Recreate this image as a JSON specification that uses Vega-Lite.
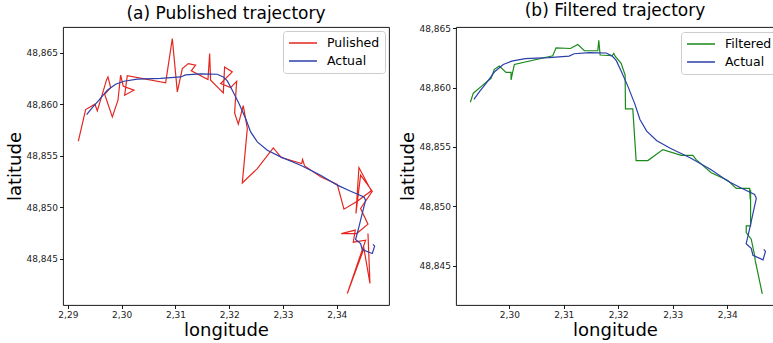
{
  "$schema": "https://vega.github.io/schema/vega-lite/v6.json",
  "background": "white",
  "padding": {"left": 5, "top": 1, "right": 0, "bottom": 0},
  "spacing": 8,
  "config": {
    "font": "DejaVu Sans",
    "view": {"stroke": "black", "strokeWidth": 0.9},
    "title": {"fontSize": 17, "fontWeight": "normal", "font": "DejaVu Sans", "color": "black", "offset": 4},
    "axis": {
      "domain": false,
      "grid": false,
      "ticks": true,
      "tickColor": "black",
      "tickSize": 3.5,
      "tickWidth": 0.9,
      "labelFont": "DejaVu Sans",
      "labelFontSize": 9,
      "labelColor": "#222222",
      "labelPadding": 2,
      "titleFont": "DejaVu Sans",
      "titleFontSize": 18,
      "titleFontWeight": "normal",
      "titleColor": "black",
      "titlePadding": 2
    },
    "legend": {
      "orient": "none",
      "title": null,
      "symbolType": "stroke",
      "symbolSize": 784,
      "symbolStrokeWidth": 1.6,
      "labelFont": "DejaVu Sans",
      "labelFontSize": 12.5,
      "labelColor": "black",
      "labelOffset": 9,
      "strokeColor": "#cccccc",
      "fillColor": "white",
      "cornerRadius": 3,
      "padding": 5,
      "rowPadding": 4,
      "clipHeight": 14
    }
  },
  "datasets": {
    "actual": [
      {"series": "Actual", "i": 0, "lon": 2.29349, "lat": 48.85900},
      {"series": "Actual", "i": 1, "lon": 2.29455, "lat": 48.85968},
      {"series": "Actual", "i": 2, "lon": 2.29579, "lat": 48.86039},
      {"series": "Actual", "i": 3, "lon": 2.29734, "lat": 48.86136},
      {"series": "Actual", "i": 4, "lon": 2.29888, "lat": 48.86194},
      {"series": "Actual", "i": 5, "lon": 2.30043, "lat": 48.86223},
      {"series": "Actual", "i": 6, "lon": 2.30291, "lat": 48.86243},
      {"series": "Actual", "i": 7, "lon": 2.30725, "lat": 48.86252},
      {"series": "Actual", "i": 8, "lon": 2.31097, "lat": 48.86265},
      {"series": "Actual", "i": 9, "lon": 2.31190, "lat": 48.86285},
      {"series": "Actual", "i": 10, "lon": 2.31468, "lat": 48.86294},
      {"series": "Actual", "i": 11, "lon": 2.31778, "lat": 48.86291},
      {"series": "Actual", "i": 12, "lon": 2.31890, "lat": 48.86265},
      {"series": "Actual", "i": 13, "lon": 2.31964, "lat": 48.86227},
      {"series": "Actual", "i": 14, "lon": 2.32057, "lat": 48.86136},
      {"series": "Actual", "i": 15, "lon": 2.32181, "lat": 48.86006},
      {"series": "Actual", "i": 16, "lon": 2.32305, "lat": 48.85861},
      {"series": "Actual", "i": 17, "lon": 2.32398, "lat": 48.85731},
      {"series": "Actual", "i": 18, "lon": 2.32522, "lat": 48.85634},
      {"series": "Actual", "i": 19, "lon": 2.32708, "lat": 48.85553},
      {"series": "Actual", "i": 20, "lon": 2.32955, "lat": 48.85489},
      {"series": "Actual", "i": 21, "lon": 2.33327, "lat": 48.85408},
      {"series": "Actual", "i": 22, "lon": 2.33699, "lat": 48.85311},
      {"series": "Actual", "i": 23, "lon": 2.34009, "lat": 48.85214},
      {"series": "Actual", "i": 24, "lon": 2.34257, "lat": 48.85155},
      {"series": "Actual", "i": 25, "lon": 2.34504, "lat": 48.85100},
      {"series": "Actual", "i": 26, "lon": 2.34535, "lat": 48.85068},
      {"series": "Actual", "i": 27, "lon": 2.34473, "lat": 48.84939},
      {"series": "Actual", "i": 28, "lon": 2.34411, "lat": 48.84809},
      {"series": "Actual", "i": 29, "lon": 2.34349, "lat": 48.84686},
      {"series": "Actual", "i": 30, "lon": 2.34442, "lat": 48.84647},
      {"series": "Actual", "i": 31, "lon": 2.34473, "lat": 48.84589},
      {"series": "Actual", "i": 32, "lon": 2.34659, "lat": 48.84550},
      {"series": "Actual", "i": 33, "lon": 2.34703, "lat": 48.84621},
      {"series": "Actual", "i": 34, "lon": 2.34672, "lat": 48.84638}
    ],
    "published": [
      {"series": "Pulished", "i": 0, "lon": 2.29195, "lat": 48.85641},
      {"series": "Pulished", "i": 1, "lon": 2.29331, "lat": 48.85948},
      {"series": "Pulished", "i": 2, "lon": 2.29504, "lat": 48.86000},
      {"series": "Pulished", "i": 3, "lon": 2.29548, "lat": 48.85935},
      {"series": "Pulished", "i": 4, "lon": 2.29721, "lat": 48.86239},
      {"series": "Pulished", "i": 5, "lon": 2.29746, "lat": 48.86265},
      {"series": "Pulished", "i": 6, "lon": 2.29796, "lat": 48.86162},
      {"series": "Pulished", "i": 7, "lon": 2.29684, "lat": 48.86097},
      {"series": "Pulished", "i": 8, "lon": 2.29827, "lat": 48.85877},
      {"series": "Pulished", "i": 9, "lon": 2.29932, "lat": 48.86039},
      {"series": "Pulished", "i": 10, "lon": 2.29981, "lat": 48.86282},
      {"series": "Pulished", "i": 11, "lon": 2.30031, "lat": 48.86175},
      {"series": "Pulished", "i": 12, "lon": 2.30229, "lat": 48.86136},
      {"series": "Pulished", "i": 13, "lon": 2.30056, "lat": 48.86087},
      {"series": "Pulished", "i": 14, "lon": 2.30105, "lat": 48.86278},
      {"series": "Pulished", "i": 15, "lon": 2.30818, "lat": 48.86207},
      {"series": "Pulished", "i": 16, "lon": 2.30942, "lat": 48.86638},
      {"series": "Pulished", "i": 17, "lon": 2.31035, "lat": 48.86120},
      {"series": "Pulished", "i": 18, "lon": 2.31128, "lat": 48.86346},
      {"series": "Pulished", "i": 19, "lon": 2.31239, "lat": 48.86395},
      {"series": "Pulished", "i": 20, "lon": 2.31375, "lat": 48.86379},
      {"series": "Pulished", "i": 21, "lon": 2.31295, "lat": 48.86324},
      {"series": "Pulished", "i": 22, "lon": 2.31605, "lat": 48.86239},
      {"series": "Pulished", "i": 23, "lon": 2.31636, "lat": 48.86492},
      {"series": "Pulished", "i": 24, "lon": 2.31654, "lat": 48.86233},
      {"series": "Pulished", "i": 25, "lon": 2.31890, "lat": 48.86110},
      {"series": "Pulished", "i": 26, "lon": 2.31914, "lat": 48.86362},
      {"series": "Pulished", "i": 27, "lon": 2.32057, "lat": 48.86314},
      {"series": "Pulished", "i": 28, "lon": 2.31840, "lat": 48.86201},
      {"series": "Pulished", "i": 29, "lon": 2.32026, "lat": 48.86162},
      {"series": "Pulished", "i": 30, "lon": 2.32138, "lat": 48.86223},
      {"series": "Pulished", "i": 31, "lon": 2.32100, "lat": 48.85916},
      {"series": "Pulished", "i": 32, "lon": 2.32169, "lat": 48.85806},
      {"series": "Pulished", "i": 33, "lon": 2.32261, "lat": 48.85987},
      {"series": "Pulished", "i": 34, "lon": 2.32336, "lat": 48.85764},
      {"series": "Pulished", "i": 35, "lon": 2.32243, "lat": 48.85236},
      {"series": "Pulished", "i": 36, "lon": 2.32522, "lat": 48.85375},
      {"series": "Pulished", "i": 37, "lon": 2.32819, "lat": 48.85576},
      {"series": "Pulished", "i": 38, "lon": 2.32968, "lat": 48.85482},
      {"series": "Pulished", "i": 39, "lon": 2.33346, "lat": 48.85424},
      {"series": "Pulished", "i": 40, "lon": 2.33364, "lat": 48.85463},
      {"series": "Pulished", "i": 41, "lon": 2.33401, "lat": 48.85401},
      {"series": "Pulished", "i": 42, "lon": 2.33699, "lat": 48.85295},
      {"series": "Pulished", "i": 43, "lon": 2.34009, "lat": 48.85220},
      {"series": "Pulished", "i": 44, "lon": 2.34133, "lat": 48.84981},
      {"series": "Pulished", "i": 45, "lon": 2.34380, "lat": 48.85058},
      {"series": "Pulished", "i": 46, "lon": 2.34641, "lat": 48.85159},
      {"series": "Pulished", "i": 47, "lon": 2.34411, "lat": 48.85385},
      {"series": "Pulished", "i": 48, "lon": 2.34356, "lat": 48.84939},
      {"series": "Pulished", "i": 49, "lon": 2.34442, "lat": 48.85311},
      {"series": "Pulished", "i": 50, "lon": 2.34659, "lat": 48.85155},
      {"series": "Pulished", "i": 51, "lon": 2.34442, "lat": 48.84987},
      {"series": "Pulished", "i": 52, "lon": 2.34579, "lat": 48.84835},
      {"series": "Pulished", "i": 53, "lon": 2.34368, "lat": 48.84744},
      {"series": "Pulished", "i": 54, "lon": 2.34083, "lat": 48.84744},
      {"series": "Pulished", "i": 55, "lon": 2.34343, "lat": 48.84777},
      {"series": "Pulished", "i": 56, "lon": 2.34306, "lat": 48.84660},
      {"series": "Pulished", "i": 57, "lon": 2.34535, "lat": 48.84680},
      {"series": "Pulished", "i": 58, "lon": 2.34195, "lat": 48.84162},
      {"series": "Pulished", "i": 59, "lon": 2.34504, "lat": 48.84599},
      {"series": "Pulished", "i": 60, "lon": 2.34616, "lat": 48.84259},
      {"series": "Pulished", "i": 61, "lon": 2.34579, "lat": 48.84744}
    ],
    "filtered": [
      {"series": "Filtered", "i": 0, "lon": 2.29283, "lat": 48.85877},
      {"series": "Filtered", "i": 1, "lon": 2.29338, "lat": 48.85953},
      {"series": "Filtered", "i": 2, "lon": 2.29479, "lat": 48.86008},
      {"series": "Filtered", "i": 3, "lon": 2.29663, "lat": 48.86078},
      {"series": "Filtered", "i": 4, "lon": 2.29724, "lat": 48.86154},
      {"series": "Filtered", "i": 5, "lon": 2.29816, "lat": 48.86181},
      {"series": "Filtered", "i": 6, "lon": 2.29939, "lat": 48.86128},
      {"series": "Filtered", "i": 7, "lon": 2.30031, "lat": 48.86128},
      {"series": "Filtered", "i": 8, "lon": 2.30031, "lat": 48.86064},
      {"series": "Filtered", "i": 9, "lon": 2.30092, "lat": 48.86195},
      {"series": "Filtered", "i": 10, "lon": 2.30797, "lat": 48.86268},
      {"series": "Filtered", "i": 11, "lon": 2.30858, "lat": 48.86335},
      {"series": "Filtered", "i": 12, "lon": 2.31121, "lat": 48.86329},
      {"series": "Filtered", "i": 13, "lon": 2.31256, "lat": 48.86363},
      {"series": "Filtered", "i": 14, "lon": 2.31379, "lat": 48.86310},
      {"series": "Filtered", "i": 15, "lon": 2.31624, "lat": 48.86310},
      {"series": "Filtered", "i": 16, "lon": 2.31642, "lat": 48.86399},
      {"series": "Filtered", "i": 17, "lon": 2.31667, "lat": 48.86274},
      {"series": "Filtered", "i": 18, "lon": 2.31887, "lat": 48.86268},
      {"series": "Filtered", "i": 19, "lon": 2.31918, "lat": 48.86288},
      {"series": "Filtered", "i": 20, "lon": 2.31949, "lat": 48.86260},
      {"series": "Filtered", "i": 21, "lon": 2.32053, "lat": 48.86204},
      {"series": "Filtered", "i": 22, "lon": 2.32126, "lat": 48.86106},
      {"series": "Filtered", "i": 23, "lon": 2.32132, "lat": 48.85821},
      {"series": "Filtered", "i": 24, "lon": 2.32267, "lat": 48.85821},
      {"series": "Filtered", "i": 25, "lon": 2.32328, "lat": 48.85386},
      {"series": "Filtered", "i": 26, "lon": 2.32543, "lat": 48.85386},
      {"series": "Filtered", "i": 27, "lon": 2.32819, "lat": 48.85478},
      {"series": "Filtered", "i": 28, "lon": 2.33156, "lat": 48.85430},
      {"series": "Filtered", "i": 29, "lon": 2.33370, "lat": 48.85430},
      {"series": "Filtered", "i": 30, "lon": 2.33431, "lat": 48.85394},
      {"series": "Filtered", "i": 31, "lon": 2.33707, "lat": 48.85283},
      {"series": "Filtered", "i": 32, "lon": 2.34013, "lat": 48.85218},
      {"series": "Filtered", "i": 33, "lon": 2.34167, "lat": 48.85151},
      {"series": "Filtered", "i": 34, "lon": 2.34412, "lat": 48.85151},
      {"series": "Filtered", "i": 35, "lon": 2.34424, "lat": 48.85059},
      {"series": "Filtered", "i": 36, "lon": 2.34430, "lat": 48.85140},
      {"series": "Filtered", "i": 37, "lon": 2.34430, "lat": 48.84836},
      {"series": "Filtered", "i": 38, "lon": 2.34350, "lat": 48.84836},
      {"series": "Filtered", "i": 39, "lon": 2.34350, "lat": 48.84780},
      {"series": "Filtered", "i": 40, "lon": 2.34442, "lat": 48.84724},
      {"series": "Filtered", "i": 41, "lon": 2.34504, "lat": 48.84585},
      {"series": "Filtered", "i": 42, "lon": 2.34516, "lat": 48.84543},
      {"series": "Filtered", "i": 43, "lon": 2.34645, "lat": 48.84264}
    ]
  },
  "hconcat": [
    {
      "width": 326,
      "height": 278,
      "title": "(a) Published trajectory",
      "encoding": {
        "x": {"field": "lon", "type": "quantitative",
          "scale": {"domain": [2.2891, 2.3497], "zero": false, "nice": false},
          "axis": {"title": "longitude", "values": [2.29, 2.30, 2.31, 2.32, 2.33, 2.34],
            "labelExpr": "replace(format(datum.value, '.2f'), '.', ',')"}},
        "y": {"field": "lat", "type": "quantitative",
          "scale": {"domain": [48.8405, 48.8675], "zero": false, "nice": false},
          "axis": {"title": "latitude", "values": [48.845, 48.85, 48.855, 48.86, 48.865],
            "labelExpr": "replace(format(datum.value, '.3f'), '.', ',')"}},
        "color": {"field": "series", "type": "nominal",
          "scale": {"domain": ["Pulished", "Actual"], "range": ["#e5261f", "#2b3fab"]},
          "legend": {"legendX": 220, "legendY": 4}},
        "order": {"field": "i", "type": "quantitative"}
      },
      "layer": [
        {"data": {"name": "published"}, "mark": {"type": "line", "strokeWidth": 1.2}},
        {"data": {"name": "actual"}, "mark": {"type": "line", "strokeWidth": 1.2}}
      ]
    },
    {
      "width": 318,
      "height": 278,
      "title": "(b) Filtered trajectory",
      "encoding": {
        "x": {"field": "lon", "type": "quantitative",
          "scale": {"domain": [2.2902, 2.3486], "zero": false, "nice": false},
          "axis": {"title": "longitude", "values": [2.30, 2.31, 2.32, 2.33, 2.34],
            "labelExpr": "replace(format(datum.value, '.2f'), '.', ',')"}},
        "y": {"field": "lat", "type": "quantitative",
          "scale": {"domain": [48.8417, 48.8651], "zero": false, "nice": false},
          "axis": {"title": "latitude", "values": [48.845, 48.85, 48.855, 48.86, 48.865],
            "labelExpr": "replace(format(datum.value, '.3f'), '.', ',')"}},
        "color": {"field": "series", "type": "nominal",
          "scale": {"domain": ["Filtered", "Actual"], "range": ["#1a8a1a", "#2b3fab"]},
          "legend": {"legendX": 225, "legendY": 5}},
        "order": {"field": "i", "type": "quantitative"}
      },
      "layer": [
        {"data": {"name": "filtered"}, "mark": {"type": "line", "strokeWidth": 1.2}},
        {"data": {"name": "actual"}, "mark": {"type": "line", "strokeWidth": 1.2}}
      ]
    }
  ],
  "resolve": {"scale": {"color": "independent", "x": "independent", "y": "independent"}, "legend": {"color": "independent"}}
}
